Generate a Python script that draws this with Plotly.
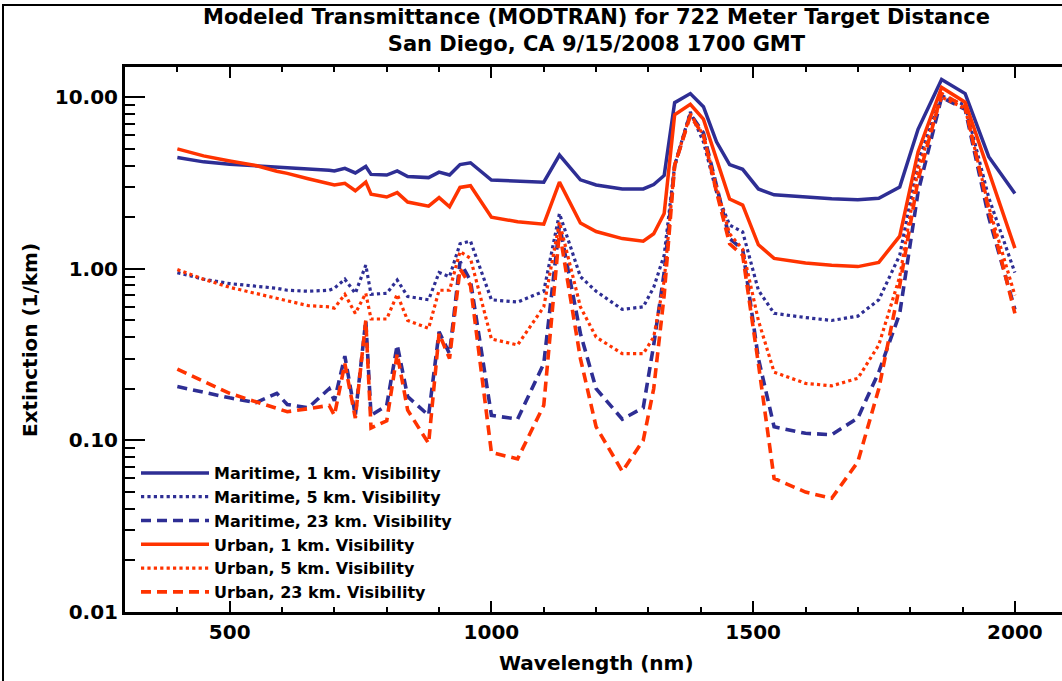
import math
import plotly.graph_objects as go

# ---------------- data ----------------
wavelength_nm = [400, 450, 500, 550, 590, 610, 650, 690, 700, 720, 740, 760, 770,
                 800, 820, 840, 880, 900, 920, 940, 960, 1000, 1050, 1100, 1130,
                 1170, 1200, 1250, 1290, 1310, 1330, 1350, 1380, 1405, 1430, 1455,
                 1480, 1510, 1540, 1600, 1650, 1700, 1740, 1780, 1815, 1860, 1905,
                 1950, 2000]

maritime_1km = [4.45, 4.2, 4.07, 4.0, 3.93, 3.9, 3.82, 3.75, 3.72, 3.85, 3.62, 3.95, 3.55,
                3.52, 3.72, 3.45, 3.4, 3.66, 3.52, 4.05, 4.15, 3.29, 3.24, 3.2, 4.6,
                3.3, 3.08, 2.92, 2.92, 3.1, 3.5, 9.3, 10.5, 8.8, 5.5, 4.05,
                3.8, 2.92, 2.7, 2.62, 2.56, 2.53, 2.58, 3.0, 6.5, 12.7, 10.5,
                4.5, 2.75]

maritime_5km = [0.95, 0.87, 0.82, 0.79, 0.77, 0.75, 0.74, 0.75, 0.77, 0.87, 0.72, 1.05, 0.71,
                0.72, 0.86, 0.69, 0.66, 0.95, 0.9, 1.4, 1.45, 0.66, 0.64, 0.74, 2.1,
                0.9, 0.74, 0.58, 0.6, 0.78, 1.2, 4.0, 8.2, 5.5, 2.8, 1.8,
                1.64, 0.75, 0.55, 0.52, 0.5, 0.53, 0.66, 1.2, 4.2, 10.2, 9.0,
                2.6, 0.95]

maritime_23km = [0.206, 0.19, 0.177, 0.166, 0.188, 0.162, 0.155, 0.2, 0.17, 0.31, 0.14, 0.5, 0.14,
                 0.16, 0.36, 0.18, 0.14, 0.43, 0.32, 1.1, 0.85, 0.14, 0.133, 0.28, 1.8,
                 0.42, 0.2, 0.133, 0.155, 0.36, 0.95, 4.0, 8.0, 6.2, 3.0, 1.5,
                 1.3, 0.3, 0.12, 0.11, 0.108, 0.135, 0.25, 0.55, 2.8, 10.0, 8.5,
                 2.0, 0.58]

urban_1km = [5.0, 4.55, 4.25, 4.0, 3.7, 3.6, 3.35, 3.15, 3.08, 3.15, 2.85, 3.2, 2.72,
             2.62, 2.78, 2.45, 2.32, 2.6, 2.3, 2.98, 3.05, 2.0, 1.88, 1.82, 3.2,
             1.85, 1.65, 1.5, 1.45, 1.6, 2.1, 7.9, 9.1, 7.45, 4.4, 2.55,
             2.35, 1.38, 1.15, 1.08, 1.05, 1.03, 1.09, 1.55, 4.8, 11.4, 9.35,
             3.7, 1.32]

urban_5km = [0.99, 0.87, 0.78, 0.72, 0.67, 0.65, 0.61, 0.6, 0.59, 0.71, 0.55, 0.72, 0.51,
             0.51, 0.71, 0.5, 0.45, 0.75, 0.75, 1.26, 1.15, 0.39, 0.36, 0.6, 1.87,
             0.6, 0.4, 0.32, 0.32, 0.4, 0.85, 4.0, 8.0, 6.0, 3.0, 1.6,
             1.3, 0.5, 0.25, 0.215, 0.208, 0.23, 0.36, 0.9, 3.8, 10.0, 8.6,
             2.3, 0.7]

urban_23km = [0.26, 0.22, 0.188, 0.168, 0.155, 0.147, 0.153, 0.16, 0.14, 0.28, 0.135, 0.5, 0.118,
              0.13, 0.32, 0.15, 0.096, 0.42, 0.3, 1.0, 0.8, 0.085, 0.078, 0.16, 1.65,
              0.3, 0.12, 0.066, 0.1, 0.2, 0.7, 4.0, 7.8, 6.0, 2.8, 1.4,
              1.2, 0.28, 0.06, 0.05, 0.046, 0.075, 0.2, 0.8, 3.3, 10.5, 8.8,
              2.2, 0.55]

series_names = ["Maritime, 1 km. Visibility", "Maritime, 5 km. Visibility",
                "Maritime, 23 km. Visibility", "Urban, 1 km. Visibility",
                "Urban, 5 km. Visibility", "Urban, 23 km. Visibility"]

x_tick_values = [500, 1000, 1500, 2000]
x_tick_labels = ["500", "1000", "1500", "2000"]
y_tick_values = [0.01, 0.1, 1, 10]
y_tick_labels = ["0.01", "0.10", "1.00", "10.00"]

title_lines = ["Modeled Transmittance (MODTRAN) for 722 Meter Target Distance",
               "San Diego, CA 9/15/2008 1700 GMT"]
x_title = "Wavelength (nm)"
y_title = "Extinction (1/km)"

# ---------------- styling ----------------
BLUE = "#2E2E94"
RED = "#FF3300"
FONT = "DejaVu Sans"
DASH = "10px,6px"

series = [
    (maritime_1km, BLUE, "solid", 3.5),
    (maritime_5km, BLUE, "dot", 3.2),
    (maritime_23km, BLUE, DASH, 3.6),
    (urban_1km, RED, "solid", 3.5),
    (urban_5km, RED, "dot", 3.2),
    (urban_23km, RED, DASH, 3.6),
]

fig = go.Figure()
for i, ((vals, color, dash, width), name) in enumerate(zip(series, series_names)):
    fig.add_trace(go.Scatter(
        x=wavelength_nm, y=vals, mode="lines", name=name,
        legendgroup=f"g{i}",
        line=dict(color=color, dash=dash, width=width),
    ))

# plot-area geometry in px
L, R, T, B = 125, 1062, 67, 612
W, H = 1062, 681
pw, ph = R - L, B - T


def px_x(px):
    return (px - L) / pw


def px_y(py):
    return (B - py) / ph


minor_y = [k * 10 ** n for n in range(-2, 2) for k in range(2, 10)]
minor_x = [v for v in range(300, 2100, 100) if v not in x_tick_values]
tickfont = dict(family=FONT, size=20, color="black", weight="bold")

fig.update_layout(
    width=W, height=H,
    margin=dict(l=L, r=W - R, t=T, b=H - B),
    paper_bgcolor="white", plot_bgcolor="white",
    showlegend=True,
    legend=dict(
        x=px_x(136), y=px_y(456), xanchor="left", yanchor="top",
        bgcolor="rgba(0,0,0,0)", borderwidth=0,
        font=dict(family=FONT, size=16, color="black", weight="bold"),
        tracegroupgap=0, itemwidth=68,
    ),
    xaxis=dict(
        range=[300, 2090], showline=True, linewidth=3, linecolor="black",
        mirror="allticks", ticks="inside", ticklen=11, tickwidth=2, tickcolor="black",
        tickvals=x_tick_values, ticktext=x_tick_labels, tickfont=tickfont,
        minor=dict(tickvals=minor_x, ticks="inside", ticklen=5, tickwidth=2, tickcolor="black"),
        showgrid=False, zeroline=False,
    ),
    yaxis=dict(
        type="log", range=[-2, math.log10(15)], showline=True, linewidth=3,
        linecolor="black", mirror=False, ticks="inside", ticklen=20, tickwidth=2,
        tickcolor="black", tickvals=y_tick_values, ticktext=y_tick_labels,
        tickfont=tickfont,
        minor=dict(tickvals=minor_y, ticks="inside", ticklen=10, tickwidth=2, tickcolor="black"),
        showgrid=False, zeroline=False,
    ),
    yaxis2=dict(
        type="log", range=[-2, math.log10(15)], overlaying="y", side="right",
        showline=False, ticks="inside", ticklen=15, tickwidth=2, tickcolor="black",
        tickvals=y_tick_values, showticklabels=False,
        minor=dict(tickvals=minor_y, ticks="inside", ticklen=5, tickwidth=2, tickcolor="black"),
        showgrid=False, zeroline=False,
    ),
    shapes=[dict(type="rect", xref="paper", yref="paper",
                 x0=px_x(3), x1=px_x(1100), y0=px_y(720), y1=px_y(5),
                 line=dict(color="black", width=2), fillcolor="rgba(0,0,0,0)")],
    annotations=[
        dict(text="<br>".join(title_lines), x=px_x(596), y=px_y(30), xref="paper", yref="paper",
             xanchor="center", yanchor="middle", showarrow=False,
             font=dict(family=FONT, size=21, color="black", weight="bold")),
        dict(text=x_title, x=px_x(596), y=px_y(663), xref="paper", yref="paper",
             xanchor="center", yanchor="middle", showarrow=False,
             font=dict(family=FONT, size=20, color="black", weight="bold")),
        dict(text=y_title, x=px_x(30), y=px_y(340), xref="paper", yref="paper",
             xanchor="center", yanchor="middle", showarrow=False, textangle=-90,
             font=dict(family=FONT, size=20, color="black", weight="bold")),
    ],
)

fig.write_html("out.html", config={"displayModeBar": False},
               post_script="document.body.style.margin='0px';")
